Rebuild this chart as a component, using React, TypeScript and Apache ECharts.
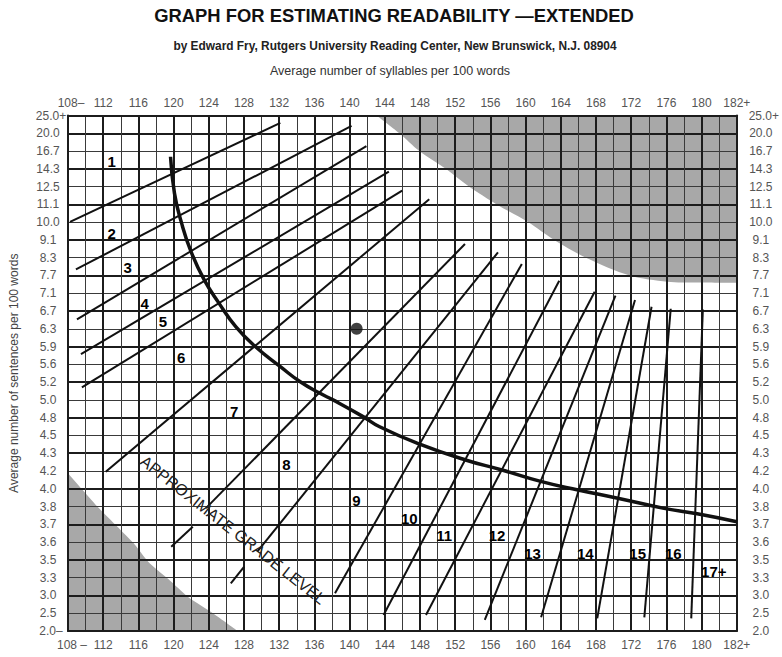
import React, { useEffect, useRef } from "react";
import * as echarts from "echarts";

// Sentence axis: evenly spaced rows, index 0 = 2.0 (bottom) ... 29 = 25.0+ (top)
const sentenceLabels = [
  "2.0", "2.5", "3.0", "3.3", "3.5", "3.6", "3.7", "3.8", "4.0", "4.2",
  "4.3", "4.5", "4.8", "5.0", "5.2", "5.6", "5.9", "6.3", "6.7", "7.1",
  "7.7", "8.3", "9.1", "10.0", "11.1", "12.5", "14.3", "16.7", "20.0", "25.0",
];

// Syllable axis
const syllableMin = 108;
const syllableMax = 184; // labelled "182+"

// Grade boundary lines: [syllables, sentence-row index]
const gradeLineSegments: [number, number][][] = [
  [[108.23, 23.02], [132.13, 28.58]],
  [[108.9, 20.34], [140.22, 28.41]],
  [[109.02, 17.53], [141.91, 27.28]],
  [[109.47, 15.58], [144.46, 25.84]],
  [[109.58, 13.71], [145.97, 24.77]],
  [[112.29, 8.96], [149.05, 24.29]],
  [[119.73, 4.74], [122.18, 5.87]],
  [[123.68, 6.91], [153.11, 21.77]],
  [[126.5, 2.68], [128.0, 3.61]],
  [[129.51, 4.46], [156.86, 21.3]],
  [[138.34, 2.12], [159.57, 20.65]],
  [[143.86, 0.9], [163.82, 19.7]],
  [[148.68, 0.9], [167.85, 19.08]],
  [[155.36, 0.62], [170.21, 18.86]],
  [[161.76, 0.77], [172.43, 18.62]],
  [[168.14, 0.71], [174.31, 18.24]],
  [[173.49, 0.77], [176.49, 18.13]],
  [[178.82, 0.71], [180.14, 18.09]],
];

// Heavy curve
const curvePoints: [number, number][] = [
  [119.65, 26.68], [120.1, 24.62], [120.86, 23.03], [121.98, 21.34],
  [123.48, 19.75], [125.17, 18.43], [127.06, 17.12], [129.31, 15.99],
  [132.13, 14.87], [134.39, 14.02], [136.64, 13.37], [138.11, 13.0],
  [141.53, 12.06], [143.41, 11.49], [147.73, 10.56], [153.18, 9.62],
  [157.31, 9.06], [161.82, 8.4], [165.96, 7.93], [170.47, 7.47],
  [175.74, 6.9], [179.5, 6.6], [184, 6.15],
];

// Shaded (invalid) areas
const shadeUpper: [number, number][] = [
  [143.07, 29], [145.66, 28], [147.92, 27], [150.93, 26], [153.56, 25],
  [156.71, 24], [160.32, 23], [163.25, 22], [166.86, 21], [171.82, 20],
  [176.11, 19.65], [179.5, 19.6], [184, 19.59],
];
const shadeLower: [number, number][] = [
  [108, 8.88], [111.5, 6.92], [115.44, 4.95], [117.14, 3.88], [119.4, 2.92],
  [121.65, 1.91], [124.58, 0.96], [127.29, 0],
];

// Grade level labels
const gradeNames = ["1", "2", "3", "4", "5", "6", "7", "8", "9", "10", "11", "12", "13", "14", "15", "16", "17+"];
const gradePositions: [number, number][] = [
  [112.96, 26.4], [112.96, 22.37], [114.77, 20.43], [116.72, 18.43],
  [118.79, 17.4], [120.86, 15.4], [126.89, 12.34], [132.81, 9.39],
  [140.78, 7.36], [146.79, 6.34], [150.74, 5.4], [156.75, 5.4],
  [160.78, 4.37], [166.79, 4.37], [172.73, 4.37], [176.79, 4.37],
  [181.38, 3.34],
];

// Example plotted point
const examplePoint: [number, number] = [140.8, 17];

const FONT = '"Liberation Sans", Arial, Helvetica, sans-serif';
const LABEL_COLOR = "#555";
const THIN = "#3a3a3a";
const THICK = "#1c1c1c";

export default function App() {
  const ref = useRef<HTMLDivElement>(null);

  useEffect(() => {
    if (!ref.current) return;
    const chart = echarts.init(ref.current, undefined, { renderer: "svg" });

    const richPad = {
      p: { fontSize: 12, color: LABEL_COLOR, fontFamily: FONT, padding: [0, 0, 0, 6] },
      q: { fontSize: 12, color: LABEL_COLOR, fontFamily: FONT, padding: [0, 0, 0, 8] },
    };

    const xFmt = (bottom: boolean) => (v: number) => {
      if (v === syllableMin) return bottom ? "{q|108 –}" : "{p|108–}";
      if (v === syllableMax) return "182+";
      return String(v);
    };
    const yFmt = (left: boolean) => (v: number) => {
      const i = Math.round(v);
      if (i === 29) return "{p|25.0+}";
      if (i === 0) return left ? "{p|2.0–}" : "2.0";
      return sentenceLabels[i] ?? "";
    };

    const lineSeries = gradeLineSegments.map((seg) => ({
      type: "line",
      data: seg,
      symbol: "none",
      z: 5,
      silent: true,
      lineStyle: { color: "#111", width: 2 },
    }));

    const option: any = {
      animation: false,
      backgroundColor: "#ffffff",
      grid: { left: 66, top: 115.5, width: 674, height: 515.5, show: false },
      xAxis: [
        {
          type: "value",
          position: "bottom",
          min: syllableMin,
          max: syllableMax,
          interval: 4,
          z: 3,
          axisLine: { show: true, onZero: false, lineStyle: { color: THICK, width: 2 } },
          axisTick: { show: false },
          axisLabel: { margin: 8, color: LABEL_COLOR, fontSize: 12, fontFamily: FONT, formatter: xFmt(true), rich: richPad },
          splitLine: { show: true, lineStyle: { color: THICK, width: 2 } },
          minorTick: { show: false, splitNumber: 2 },
          minorSplitLine: { show: true, lineStyle: { color: THIN, width: 1 } },
        },
        {
          type: "value",
          position: "top",
          min: syllableMin,
          max: syllableMax,
          interval: 4,
          z: 3,
          axisLine: { show: true, onZero: false, lineStyle: { color: THICK, width: 2 } },
          axisTick: { show: false },
          axisLabel: { margin: 7, color: LABEL_COLOR, fontSize: 12, fontFamily: FONT, formatter: xFmt(false), rich: richPad },
          splitLine: { show: false },
        },
      ],
      yAxis: [
        {
          type: "value",
          position: "left",
          min: 0,
          max: 29,
          interval: 1,
          z: 3,
          axisLine: { show: true, onZero: false, lineStyle: { color: THICK, width: 2 } },
          axisTick: { show: false },
          axisLabel: { margin: 20, align: "center", color: LABEL_COLOR, fontSize: 12, fontFamily: FONT, formatter: yFmt(true), rich: richPad },
          splitLine: { show: true, lineStyle: { color: THIN, width: 1 } },
          name: "Average number of sentences per 100 words",
          nameLocation: "middle",
          nameGap: 48,
          nameRotate: 90,
          nameTextStyle: { color: "#444", fontSize: 12, fontFamily: FONT },
        },
        {
          type: "value",
          position: "right",
          min: 0,
          max: 29,
          interval: 1,
          z: 3,
          axisLine: { show: true, onZero: false, lineStyle: { color: THICK, width: 2 } },
          axisTick: { show: false },
          axisLabel: { margin: 24, align: "center", color: LABEL_COLOR, fontSize: 12, fontFamily: FONT, formatter: yFmt(false), rich: richPad },
          splitLine: { show: false },
        },
        {
          type: "value",
          position: "left",
          min: 0,
          max: 29,
          interval: 2,
          z: 3,
          axisLine: { show: false },
          axisTick: { show: false },
          axisLabel: { show: false },
          splitLine: { show: true, lineStyle: { color: THICK, width: 2 } },
        },
      ],
      graphic: [
        {
          type: "text",
          x: 394,
          y: 15,
          style: { text: "GRAPH FOR ESTIMATING READABILITY —EXTENDED", font: `bold 18.4px ${FONT}`, fill: "#111", align: "center", verticalAlign: "middle" },
        },
        {
          type: "text",
          x: 395,
          y: 46,
          style: { text: "by Edward Fry, Rutgers University Reading Center, New Brunswick, N.J. 08904", font: `bold 11.9px ${FONT}`, fill: "#222", align: "center", verticalAlign: "middle" },
        },
        {
          type: "text",
          x: 390,
          y: 71,
          style: { text: "Average number of syllables per 100 words", font: `12.5px ${FONT}`, fill: "#333", align: "center", verticalAlign: "middle" },
        },
        {
          type: "text",
          x: 233,
          y: 530,
          rotation: -38 * Math.PI / 180,
          z: 10,
          style: { text: "APPROXIMATE GRADE LEVEL", font: `16px ${FONT}`, fill: "#222", align: "center", verticalAlign: "middle" },
        },
      ],
      series: [
        {
          type: "line",
          data: shadeUpper,
          smooth: 0.3,
          symbol: "none",
          z: 1,
          silent: true,
          lineStyle: { width: 0 },
          areaStyle: { color: "#a8a8a8", opacity: 1, origin: "end" },
        },
        {
          type: "line",
          data: shadeLower,
          smooth: 0.2,
          symbol: "none",
          z: 1,
          silent: true,
          lineStyle: { width: 0 },
          areaStyle: { color: "#a8a8a8", opacity: 1, origin: "start" },
        },
        ...lineSeries,
        {
          type: "line",
          data: curvePoints,
          smooth: 0.5,
          symbol: "none",
          z: 6,
          silent: true,
          lineStyle: { color: "#111", width: 3.5 },
        },
        {
          type: "scatter",
          data: [examplePoint],
          symbolSize: 12,
          z: 7,
          itemStyle: { color: "#111" },
        },
        {
          type: "scatter",
          data: gradePositions.map((p, i) => ({ value: p, name: gradeNames[i] })),
          symbolSize: 0.1,
          z: 8,
          silent: true,
          itemStyle: { color: "#111", opacity: 1 },
          label: {
            show: true,
            position: "inside",
            formatter: "{b}",
            color: "#000",
            opacity: 1,
            textBorderWidth: 0,
            fontSize: 15,
            fontWeight: "bold",
            fontFamily: FONT,
          },
        },
      ],
    };

    chart.setOption(option);
    return () => chart.dispose();
  }, []);

  return <div ref={ref} style={{ position: "absolute", left: 0, top: 0, width: 782, height: 657 }} />;
}
